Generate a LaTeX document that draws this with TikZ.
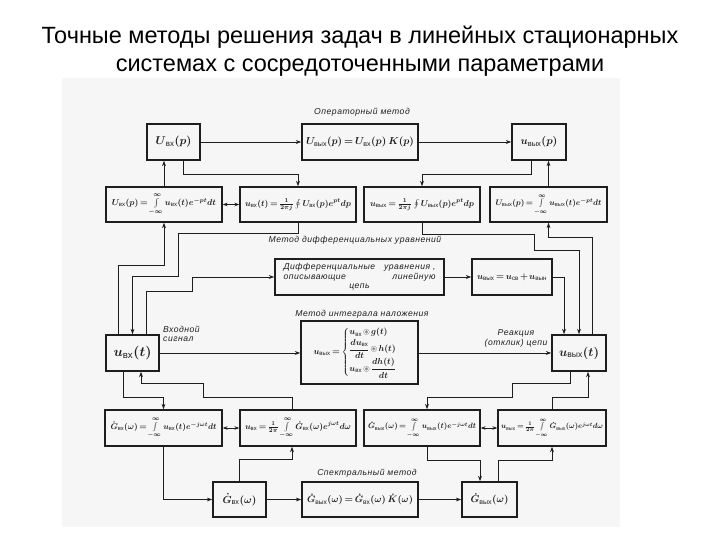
\documentclass[tikz,border=0pt]{standalone}
\usepackage{amsmath,amssymb,graphicx}
\usepackage[no-math]{fontspec}
\setmainfont{Liberation Sans}
\newfontfamily\lblfont[LetterSpace=6]{Liberation Sans}
\usetikzlibrary{arrows.meta}
\definecolor{scan}{RGB}{246,246,246}
\definecolor{ink}{RGB}{30,30,30}
\newcommand{\sbx}{\text{вх}}
\newcommand{\sbyx}{\text{вых}}
\newcommand{\fm}[2]{\resizebox{#1pt}{!}{\boldmath$\thickmuskip=3mu\medmuskip=2mu #2$}}
\tikzset{
  box/.style={draw=ink, line width=1.3pt, inner sep=0pt, align=center,
    font=\fontsize{10}{11}\selectfont, text=ink},
  arr/.style={draw=ink, line width=0.9pt, -{Stealth[length=5.5pt,width=3.8pt]}},
  darr/.style={draw=ink, line width=0.9pt, {Stealth[length=5pt,width=3.6pt]}-{Stealth[length=5pt,width=3.6pt]}},
  lbl/.style={font=\lblfont\itshape\fontsize{8.6}{9.5}\selectfont, inner sep=0pt, text=ink},
}
\begin{document}
\begin{tikzpicture}[x=1pt,y=-1pt]
\useasboundingbox (0,0) rectangle (720,540);
\fill[scan] (62,78) rectangle (620,527);
% title
\node[font=\fontsize{23.5}{28}\selectfont, align=center, inner sep=0pt] (title) at (360,51)
  {Точные методы решения задач в линейных стационарных\\системах с сосредоточенными параметрами};
% boxes
\node[box,minimum width=53pt,minimum height=36pt] (UinP) at (173.5,142) {\fm{36}{\boldsymbol{U}_{\sbx}(p)}};
\node[box,minimum width=116pt,minimum height=36pt] (Op) at (360,142) {\fm{108}{U_{\sbyx}(p)=U_{\sbx}(p)\,K(p)}};
\node[box,minimum width=54pt,minimum height=36pt] (UoutP) at (539,142) {\fm{37}{u_{\sbyx}(p)}};
\node[box,minimum width=116pt,minimum height=35pt] (A) at (164,204.5) {\fm{104}{U_{\sbx}(p)=\int\limits_{-\infty}^{\infty}u_{\sbx}(t)e^{-pt}dt}};
\node[box,minimum width=116pt,minimum height=35pt] (B) at (298,204.5) {\fm{106}{u_{\sbx}(t)=\frac{1}{2\pi j}\oint U_{\sbx}(p)e^{pt}dp}};
\node[box,minimum width=116pt,minimum height=35pt] (C) at (422,204.5) {\fm{104}{u_{\sbyx}=\frac{1}{2\pi j}\oint U_{\sbyx}(p)e^{pt}dp}};
\node[box,minimum width=117pt,minimum height=35pt] (D) at (548.5,204.5) {\fm{106}{U_{\sbyx}(p)=\int\limits_{-\infty}^{\infty}u_{\sbyx}(t)e^{-pt}dt}};
\node[box,minimum width=169pt,minimum height=36pt,font=\lblfont\itshape\fontsize{8.6}{9.6}\selectfont] (Diff) at (359.5,277)
  {\parbox{152pt}{Дифференциальные\hfill уравнения ,\\описывающие\hfill линейную\\\hspace*{\fill}цепь\hspace*{\fill}}};
\node[box,minimum width=80pt,minimum height=36pt] (Usum) at (512,277) {\fm{70}{u_{\sbyx}=u_{\text{св}}+u_{\text{вын}}}};
\node[box,minimum width=53pt,minimum height=36pt] (UinT) at (132.5,353) {\fm{38}{u_{\sbx}(t)}};
\node[box,minimum width=117pt,minimum height=63pt] (Int) at (359.5,352.5)
  {\fm{92}{u_{\sbyx}=\begin{cases}u_{\sbx}\circledast g(t)\\[1pt] \dfrac{du_{\sbx}}{dt}\circledast h(t)\\[2pt] u_{\sbx}\circledast\dfrac{dh(t)}{dt}\end{cases}}};
\node[box,minimum width=54pt,minimum height=36pt] (UoutT) at (579,353) {\fm{40}{u_{\sbyx}(t)}};
\node[box,minimum width=117pt,minimum height=36pt] (E) at (163.5,428) {\fm{106}{\dot{\boldsymbol{G}}_{\sbx}(\omega)=\int\limits_{-\infty}^{\infty}u_{\sbx}(t)e^{-j\omega t}dt}};
\node[box,minimum width=116pt,minimum height=36pt] (F) at (298,428) {\fm{106}{u_{\sbx}=\frac{1}{2\pi}\int\limits_{-\infty}^{\infty}\dot G_{\sbx}(\omega)e^{j\omega t}d\omega}};
\node[box,minimum width=116pt,minimum height=36pt] (G) at (422,428) {\fm{108}{\dot G_{\sbyx}(\omega)=\int\limits_{-\infty}^{\infty}u_{\sbyx}(t)e^{-j\omega t}dt}};
\node[box,minimum width=108pt,minimum height=36pt] (H) at (552,428) {\fm{102}{u_{\sbyx}=\frac{1}{2\pi}\int\limits_{-\infty}^{\infty}\dot G_{\sbyx}(\omega)e^{j\omega t}d\omega}};
\node[box,minimum width=53pt,minimum height=35pt] (GinW) at (239.5,499.5) {\fm{34}{\dot G_{\sbx}(\omega)}};
\node[box,minimum width=116pt,minimum height=35pt] (Spec) at (360,499.5) {\fm{106}{\dot G_{\sbyx}(\omega)=\dot G_{\sbx}(\omega)\,\dot K(\omega)}};
\node[box,minimum width=55pt,minimum height=35pt] (GoutW) at (489.5,499.5) {\fm{38}{\dot G_{\sbyx}(\omega)}};
% labels
\node[lbl] (l1) at (362,112) {Операторный метод};
\node[lbl] (l2) at (355,240) {Метод дифференциальных уравнений};
\node[lbl] (l3) at (362,314) {Метод интеграла наложения};
\node[lbl,anchor=west,align=left] (l4) at (163,334) {Входной\\сигнал};
\node[lbl,align=center] (l5) at (516,338.5) {Реакция\\(отклик) цепи};
\node[lbl] (l6) at (367,473) {Спектральный метод};
% connectors: operator method
\draw[arr] (UinP.east) -- (Op.west);
\draw[arr] (Op.east) -- (UoutP.west);
\draw[arr] (A.north) -- (A.north |- UinP.south);
\draw[arr] (UinP.south -| 183,0) |- (298,174) -- (B.north);
\draw[arr] (UoutP.south -| 531,0) |- (422,174) -- (C.north);
\draw[arr] (D.north) -- (D.north |- UoutP.south);
\draw[darr] (A.east) -- (B.west);
% to/from u_in(t)
\draw[arr] (UinT.north -| 118,0) |- (164,265) -- (A.south);
\draw[arr] (B.south) |- (178,233) |- (132.5,276) -- (UinT.north);
\draw[arr] (UinT.north -| 146,0) |- (192,291) |- (Diff.west);
\draw[arr] (Diff.east) -- (Usum.west);
\draw[arr] (Usum.east) -| (UoutT.north -| 564,0);
\draw[arr] (C.south) |- (534,234) |- (579,250) -- (UoutT.north);
\draw[arr] (UoutT.north -| 592,0) |- (548.5,237) -- (D.south);
\draw[arr] (UinT.east) -- (Int.west |- UinT.east);
\draw[arr] (Int.east |- UoutT.west) -- (UoutT.west);
% spectral
\draw[arr] (UinT.south -| 123,0) |- (163.5,397) -- (E.north);
\draw[arr] (F.north -| 292,0) |- (203,397) |- (141,383) -- (UinT.south -| 141,0);
\draw[darr] (E.east) -- (F.west);
\draw[arr] (E.south) |- (GinW.west);
\draw[arr] (GinW.north) |- (292,459) -- (F.south -| 292,0);
\draw[arr] (GinW.east) -- (Spec.west);
\draw[arr] (Spec.east) -- (GoutW.west);
\draw[arr] (UoutT.south -| 570,0) |- (512,383) |- (427,397) -- (G.north -| 427,0);
\draw[arr] (H.north) |- (588,397) -- (UoutT.south -| 588,0);
\draw[darr] (G.east) -- (H.west);
\draw[arr] (G.south -| 427,0) |- (480,460) -- (GoutW.north -| 480,0);
\draw[arr] (GoutW.north -| 498,0) |- (552,460) -- (H.south);
\end{tikzpicture}
\end{document}
